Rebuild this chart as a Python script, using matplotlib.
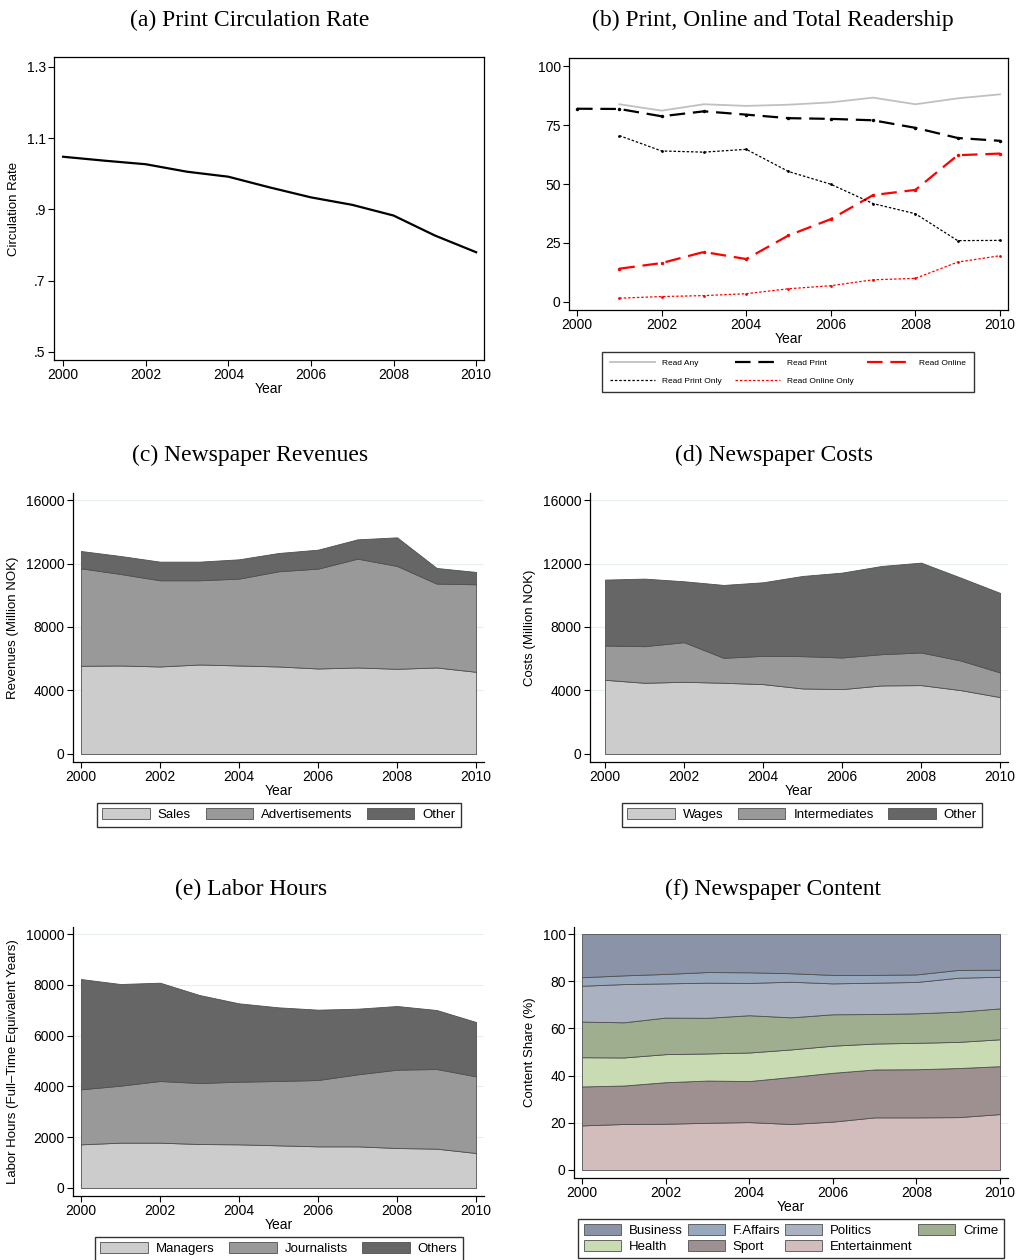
import numpy as np
import matplotlib
matplotlib.use("Agg")
import matplotlib.pyplot as plt

plt.rcParams['font.family'] = ['Liberation Sans', 'DejaVu Sans']
plt.rcParams['axes.linewidth'] = 0.9

years = list(range(2000, 2011))

# (a) print circulation rate
circulation = [1.048, 1.037, 1.027, 1.006, 0.992, 0.962, 0.934, 0.913, 0.883, 0.827, 0.780]

# (b) readership (%), starting 2001 except Read Print
years_b = list(range(2001, 2011))
read_any = [83.8, 81.1, 83.8, 83.1, 83.6, 84.6, 86.6, 83.8, 86.3, 88.0]
read_print = [81.9, 81.8, 78.7, 80.8, 79.4, 77.9, 77.6, 77.0, 73.8, 69.5, 68.3]
read_online = [14.1, 16.5, 21.2, 18.2, 28.2, 35.1, 45.3, 47.5, 62.2, 62.9]
read_print_only = [70.5, 64.0, 63.5, 64.7, 55.3, 49.9, 41.7, 37.4, 26.0, 26.1]
read_online_only = [1.6, 2.3, 2.7, 3.5, 5.6, 6.9, 9.4, 10.0, 16.9, 19.6]

# (c) revenues (million NOK)
rev_sales = [5556, 5577, 5514, 5640, 5577, 5514, 5388, 5451, 5367, 5451, 5178]
rev_ads = [6142, 5765, 5429, 5303, 5471, 5995, 6289, 6855, 6478, 5283, 5514]
rev_other = [1090, 1132, 1174, 1174, 1216, 1153, 1195, 1216, 1803, 985, 776]

# (d) costs (million NOK)
cost_wages = [4675, 4486, 4549, 4486, 4402, 4130, 4088, 4319, 4340, 4025, 3585]
cost_inter = [2159, 2306, 2495, 1573, 1782, 2033, 1991, 1970, 2054, 1866, 1551]
cost_other = [4151, 4256, 3837, 4591, 4634, 5053, 5347, 5556, 5661, 5220, 5011]

# (e) labor hours (FTE years)
lab_managers = [1719, 1785, 1785, 1732, 1719, 1680, 1640, 1640, 1575, 1549, 1378]
lab_journalists = [2166, 2244, 2428, 2402, 2467, 2533, 2612, 2835, 3084, 3136, 3018]
lab_others = [4343, 4002, 3871, 3464, 3084, 2900, 2769, 2585, 2506, 2323, 2139]

# (f) content shares (%)
content_names = ['Entertainment', 'Sport', 'Health', 'Crime', 'Politics', 'F.Affairs', 'Business']
entertainment = [18.9, 19.5, 19.6, 20.0, 20.3, 19.5, 20.5, 22.3, 22.3, 22.4, 23.7]
sport = [16.5, 16.3, 17.6, 17.9, 17.4, 19.9, 20.7, 20.3, 20.4, 20.8, 20.3]
health = [12.4, 11.9, 11.9, 11.5, 12.1, 11.7, 11.5, 11.0, 11.2, 11.1, 11.4]
crime = [15.1, 14.9, 15.5, 15.1, 15.8, 13.6, 13.3, 12.5, 12.5, 12.8, 13.1]
politics = [15.2, 16.2, 14.5, 14.9, 13.7, 15.1, 13.1, 13.3, 13.3, 14.4, 13.4]
faffairs = [3.6, 3.7, 4.0, 4.5, 4.5, 3.6, 3.6, 3.3, 3.2, 3.3, 3.0]
business = [18.3, 17.5, 16.9, 16.1, 16.2, 16.6, 17.3, 17.3, 17.1, 15.2, 15.1]
content_colors = ['#d2bcbc', '#9e9090', '#c9dbb3', '#a0ae90', '#aab1c0', '#98a9bd', '#8a93a8']

grays = ['#cccccc', '#999999', '#666666']
grid_col = '#e6eef0'
W, H = 1016, 1260
fig = plt.figure(figsize=(W / 100, H / 100), dpi=100)


def box(l, r, t, b):
    return [l / W, 1 - b / H, (r - l) / W, (b - t) / H]


def title(txt, x, y):
    fig.text(x / W, 1 - y / H, txt, ha='center', va='center', fontsize=17,
             family=['Liberation Serif', 'DejaVu Serif'])


def style(ax, full=False):
    ax.tick_params(direction='out', length=4, width=0.8, labelsize=10, pad=2)
    ax.set_xticks(range(2000, 2011, 2))
    ax.set_xlabel('Year', fontsize=10, labelpad=0)
    if not full:
        ax.spines['top'].set_visible(False)
        ax.spines['right'].set_visible(False)


# (a)
ax = fig.add_axes(box(54, 484, 57, 360))
ax.plot(years, circulation, color='black', lw=1.6)
ax.set_xlim(1999.78, 2010.19)
ax.set_ylim(0.4775, 1.328)
ax.set_yticks([0.5, 0.7, 0.9, 1.1, 1.3])
ax.set_yticklabels(['.5', '.7', '.9', '1.1', '1.3'])
ax.set_ylabel('Circulation Rate', fontsize=9.5, labelpad=5)
style(ax, full=True)
title('(a) Print Circulation Rate', 250, 20)

# (b)
ax = fig.add_axes(box(569, 1008, 58, 310))
h_any, = ax.plot(years_b, read_any, color='#c0c0c0', lw=1.3, label='Read Any')
h_pr, = ax.plot(years, read_print, color='black', lw=1.6, dashes=(7, 3.5),
                marker='.', ms=3, label='Read Print')
h_on, = ax.plot(years_b, read_online, color='red', lw=1.6, dashes=(7, 3.5),
                marker='.', ms=3, label='Read Online')
h_po, = ax.plot(years_b, read_print_only, color='black', lw=0.9, dashes=(2, 1.5),
                marker='.', ms=2, label='Read Print Only')
h_oo, = ax.plot(years_b, read_online_only, color='red', lw=0.9, dashes=(2, 1.5),
                marker='.', ms=2, label='Read Online Only')
ax.set_xlim(1999.81, 2010.19)
ax.set_ylim(-3.4, 103.4)
ax.set_yticks([0, 25, 50, 75, 100])
style(ax, full=True)
handles = [h_any, h_po, h_pr, h_oo, h_on]
leg = ax.legend(handles=handles, labels=[h.get_label() for h in handles],
                ncol=3, fontsize=6, loc='center', bbox_to_anchor=(788 / W, 1 - 372 / H),
                bbox_transform=fig.transFigure, frameon=True, fancybox=False,
                edgecolor='black', handlelength=5.4, columnspacing=1.6,
                borderpad=0.9, labelspacing=1.15, handletextpad=0.85)
leg.get_frame().set_linewidth(1.0)
for lh in leg.get_lines():
    lh.set_marker('')
title('(b) Print, Online and Total Readership', 773, 20)


def area_panel(pos, xl, yl, yt, series, labels, colors, ylabel, tit, tpos, legpos,
               ncol=3, legorder=None, hl=3.6, cs=1.1, ls=0.15):
    ax = fig.add_axes(box(*pos))
    ax.set_axisbelow(True)
    for v in yt[1:]:
        ax.axhline(v, color=grid_col, lw=0.8, zorder=0)
    polys = ax.stackplot(years, *series, colors=colors, labels=labels,
                         edgecolor='#505050', linewidth=0.6, zorder=2)
    ax.set_xlim(*xl)
    ax.set_ylim(*yl)
    ax.set_yticks(yt)
    ax.set_ylabel(ylabel, fontsize=9.5, labelpad=5)
    style(ax)
    order = legorder if legorder is not None else range(len(polys))
    hs = [polys[i] for i in order]
    leg = ax.legend(handles=hs, labels=[labels[i] for i in order], ncol=ncol,
                    fontsize=9.5, loc='upper center',
                    bbox_to_anchor=(legpos[0] / W, 1 - legpos[1] / H),
                    bbox_transform=fig.transFigure, frameon=True, fancybox=False,
                    edgecolor='black', handlelength=hl, handleheight=0.9,
                    columnspacing=cs, borderpad=0.4, labelspacing=ls,
                    handletextpad=0.6, borderaxespad=0)
    leg.get_frame().set_linewidth(1.0)
    title(tit, *tpos)
    return ax


area_panel((73, 484, 493, 762), (1999.8, 2010.2), (-504, 16441),
           [0, 4000, 8000, 12000, 16000], [rev_sales, rev_ads, rev_other],
           ['Sales', 'Advertisements', 'Other'], grays,
           'Revenues (Million NOK)', '(c) Newspaper Revenues', (250, 455), (279, 803))

area_panel((590, 1008, 493, 762), (1999.62, 2010.2), (-504, 16441),
           [0, 4000, 8000, 12000, 16000], [cost_wages, cost_inter, cost_other],
           ['Wages', 'Intermediates', 'Other'], grays,
           'Costs (Million NOK)', '(d) Newspaper Costs', (774, 455), (802, 803))

area_panel((73, 484, 927, 1196), (1999.8, 2010.2), (-315, 10276),
           [0, 2000, 4000, 6000, 8000, 10000], [lab_managers, lab_journalists, lab_others],
           ['Managers', 'Journalists', 'Others'], grays,
           'Labor Hours (Full\u2013Time Equivalent Years)', '(e) Labor Hours', (251, 889),
           (279, 1237))

area_panel((574, 1008, 927, 1178), (1999.81, 2010.19), (-3.4, 103),
           [0, 20, 40, 60, 80, 100],
           [entertainment, sport, health, crime, politics, faffairs, business],
           content_names, content_colors,
           'Content Share (%)', '(f) Newspaper Content', (773, 889), (791, 1219),
           ncol=4, legorder=[6, 2, 5, 1, 4, 0, 3], hl=2.8, cs=0.4, ls=0.2)

fig.savefig('out.png', dpi=100)
